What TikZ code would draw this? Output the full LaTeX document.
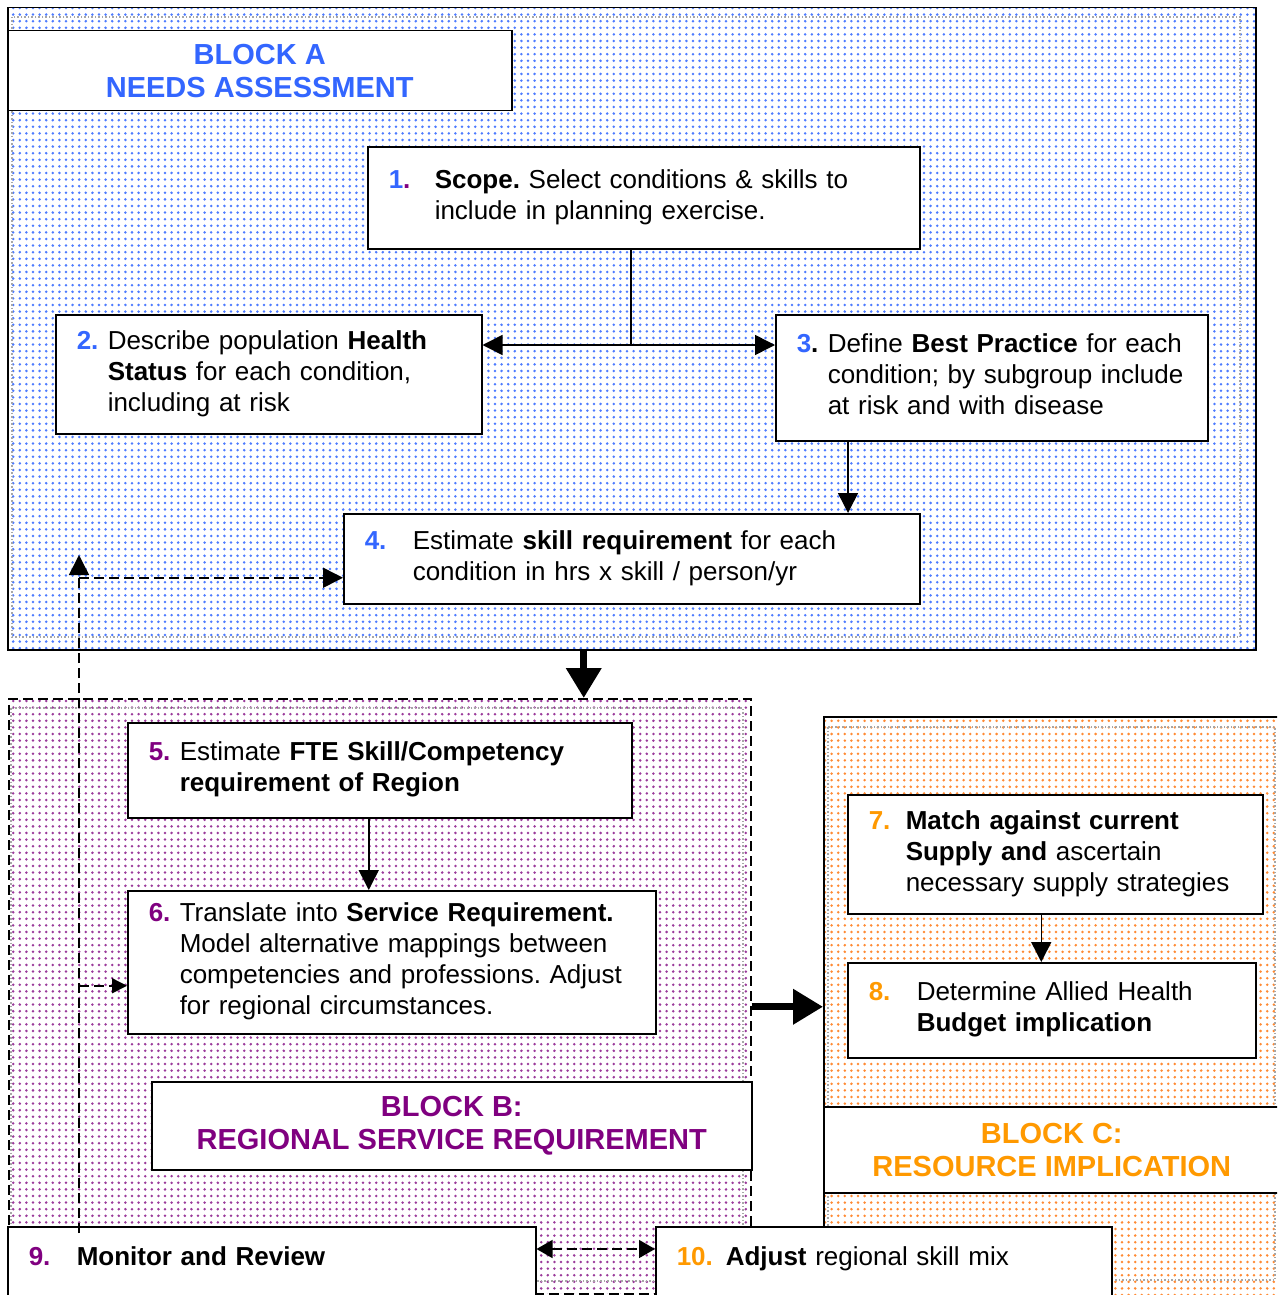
\documentclass[tikz,border=0pt]{standalone}
\usepackage{fontspec}
\setmainfont{Liberation Sans}
\usetikzlibrary{arrows.meta,patterns.meta,calc}
\definecolor{blockblue}{HTML}{3366FF}
\definecolor{blockpurple}{HTML}{800080}
\definecolor{blockorange}{HTML}{FF9900}
\definecolor{dotblue}{HTML}{4D7BFF}
\definecolor{dotpurple}{HTML}{9A3A9A}
\definecolor{dotorange}{HTML}{FF8A33}
\frenchspacing

\tikzdeclarepattern{
  name=spots,
  type=uncolored,
  bottom left={(-3.3pt,-3.3pt)},
  top right={(3.3pt,3.3pt)},
  tile size={(6.6pt,6.6pt)},
  code={\pgfpathcircle{\pgfpointorigin}{1.4pt}\pgfusepath{fill}}
}

\newcommand{\stepno}[2]{\textbf{\textcolor{#1}{#2}}}

\tikzset{
  stepbox/.style={draw, line width=1.5pt, fill=white, anchor=north west, inner xsep=21pt, inner ysep=0pt, align=left, font=\fontsize{26}{31}\selectfont},
  titlebox/.style={draw, line width=1.5pt, fill=white, anchor=north west, align=center, inner sep=0pt, font=\fontsize{29}{33}\selectfont\bfseries},
  blockarea/.style={anchor=north west, inner sep=0pt, line width=1.5pt, pattern=spots},
  innerframe/.style={gray!70, dotted, line width=1.5pt},
  arr/.style={line width=1.5pt, -{Triangle[length=20pt,width=20pt]}},
  dasharr/.style={line width=1.5pt, dash pattern=on 10pt off 5pt, -{Triangle[length=20pt,width=20pt]}},
  bigarr/.style={line width=7pt, -{Triangle[length=30pt,width=34pt]}}
}

\begin{document}
\begin{tikzpicture}[x=1pt,y=-1pt]
          \useasboundingbox (0,0) rectangle (1277,1295);
          \clip (0,0) rectangle (1277,1295);

          % Draw the three dotted block areas
          \node[blockarea, draw, pattern color=dotblue, minimum width=1248pt, minimum height=642pt] (blkA) at (7,7) {};
          \node[blockarea, draw, dash pattern=on 10pt off 5pt, pattern color=dotpurple, minimum width=742pt, minimum height=595pt] (blkB) at (8,698) {};
          \node[blockarea, draw, pattern color=dotorange, minimum width=470pt, minimum height=600pt] (blkC) at (823,716) {};
          \draw[innerframe] (12,17) rectangle (1240,637);
          \draw[innerframe] (11,708) rectangle (743,1281);
          \draw[innerframe] (828,727) rectangle (1275,1280);

          % Draw block titles
          \node[titlebox, text=blockblue, minimum width=504pt, minimum height=80pt] (tA) at (7,30) {BLOCK A\\NEEDS ASSESSMENT};
          \node[titlebox, text=blockpurple, minimum width=600pt, minimum height=88pt] (tB) at (151,1081) {BLOCK B:\\REGIONAL SERVICE REQUIREMENT};
          \node[titlebox, text=blockorange, minimum width=456pt, minimum height=86pt] (tC) at (823,1106) {BLOCK C:\\RESOURCE IMPLICATION};

          % Draw the steps of block A
          \node[stepbox, minimum width=552pt, minimum height=102pt, text width=510pt] (s1) at (367,146) {\begin{tabular}{@{}p{46pt}@{}l@{}}\textbf{\textcolor{blockblue}{1}\textcolor{blockpurple}{.}} & \textbf{Scope.} Select conditions \& skills to\\ & include in planning exercise.\end{tabular}};
          \node[stepbox, minimum width=426pt, minimum height=119pt, text width=384pt] (s2) at (55,314) {\begin{tabular}{@{}p{31pt}@{}l@{}}\stepno{blockblue}{2.} & Describe population \textbf{Health}\\ & \textbf{Status} for each condition,\\ & including at risk\end{tabular}};
          \node[stepbox, minimum width=432pt, minimum height=126pt, text width=390pt] (s3) at (775,314) {\begin{tabular}{@{}p{31pt}@{}l@{}}\textbf{\textcolor{blockblue}{3}.} & Define \textbf{Best Practice} for each\\ & condition; by subgroup include\\ & at risk and with disease\end{tabular}};
          \node[stepbox, minimum width=576pt, minimum height=90pt, text width=534pt] (s4) at (343,513) {\begin{tabular}{@{}p{48pt}@{}l@{}}\stepno{blockblue}{4.} & Estimate \textbf{skill requirement} for each\\ & condition in hrs x skill / person/yr\end{tabular}};

          % Draw the steps of block B
          \node[stepbox, minimum width=504pt, minimum height=95pt, text width=462pt] (s5) at (127,722) {\begin{tabular}{@{}p{31pt}@{}l@{}}\stepno{blockpurple}{5.} & Estimate \textbf{FTE Skill/Competency}\\ & \textbf{requirement of Region}\end{tabular}};
          \node[stepbox, minimum width=528pt, minimum height=143pt, text width=486pt] (s6) at (127,890) {\begin{tabular}{@{}p{31pt}@{}l@{}}\stepno{blockpurple}{6.} & Translate into \textbf{Service Requirement.}\\ & Model alternative mappings between\\ & competencies and professions. Adjust\\ & for regional circumstances.\end{tabular}};

          % Draw the steps of block C
          \node[stepbox, minimum width=415pt, minimum height=119pt, text width=373pt] (s7) at (847,794) {\begin{tabular}{@{}p{37pt}@{}l@{}}\stepno{blockorange}{7.} & \textbf{Match against current}\\ & \textbf{Supply and} ascertain\\ & necessary supply strategies\end{tabular}};
          \node[stepbox, minimum width=408pt, minimum height=95pt, text width=366pt] (s8) at (847,962) {\begin{tabular}{@{}p{48pt}@{}l@{}}\stepno{blockorange}{8.} & Determine Allied Health\\ & \textbf{Budget implication}\end{tabular}};

          % Draw the monitoring steps at the bottom
          \node[stepbox, minimum width=528pt, text width=486pt, inner ysep=19pt, text height=20pt, text depth=80pt] (s9) at (7,1226) {\makebox[48pt][l]{\stepno{blockpurple}{9.}}\textbf{Monitor and Review}};
          \node[stepbox, minimum width=456pt, text width=414pt, inner ysep=19pt, text height=20pt, text depth=80pt] (s10) at (655,1226) {\makebox[49pt][l]{\stepno{blockorange}{10.}}\textbf{Adjust} regional skill mix};

          % Draw arrows inside block A
          \coordinate (fork) at (631,345);
          \draw[line width=1.5pt] (fork |- s1.south) -- (fork);
          \draw[line width=1.5pt, {Triangle[length=20pt,width=20pt]}-{Triangle[length=20pt,width=20pt]}] (fork -| s2.east) -- (fork -| s3.west);
          \draw[arr] ([xshift=73pt]s3.south west) coordinate (a34) -- (a34 |- s4.north);

          % Draw arrows inside blocks B and C
          \draw[arr] ([xshift=-11pt]s5.south) coordinate (a56) -- (a56 |- s6.north);
          \draw[arr] ([xshift=-14pt]s7.south) coordinate (a78) -- (a78 |- s8.north);

          % Draw thick arrows between blocks
          \draw[bigarr] ([xshift=-48pt]blkA.south) coordinate (aAB) -- (aAB |- blkB.north);
          \draw[bigarr] ([yshift=-10.5pt]blkB.east) coordinate (aBC) -- (aBC -| blkC.west);

          % Draw dashed feedback from monitoring
          \coordinate (fb) at (79,555);
          \path ([yshift=-19pt]s4.west) coordinate (s4in);
          \path ([yshift=-23.5pt]s6.west) coordinate (s6in);
          \draw[dasharr] ([yshift=-7pt]s9.north -| fb) -- (fb);
          \draw[dasharr] (fb |- s4in) -- (s4in);
          \draw[line width=1.5pt, dash pattern=on 10pt off 5pt, -{Triangle[length=15pt,width=15pt]}] (fb |- s6in) -- (s6in);
          \draw[line width=1.5pt, dash pattern=on 10pt off 5pt, {Triangle[length=16pt,width=18pt]}-{Triangle[length=16pt,width=18pt]}] ([yshift=-23pt]s9.north east) -- ([yshift=-23pt]s10.north west);
        \end{tikzpicture}
\end{document}
